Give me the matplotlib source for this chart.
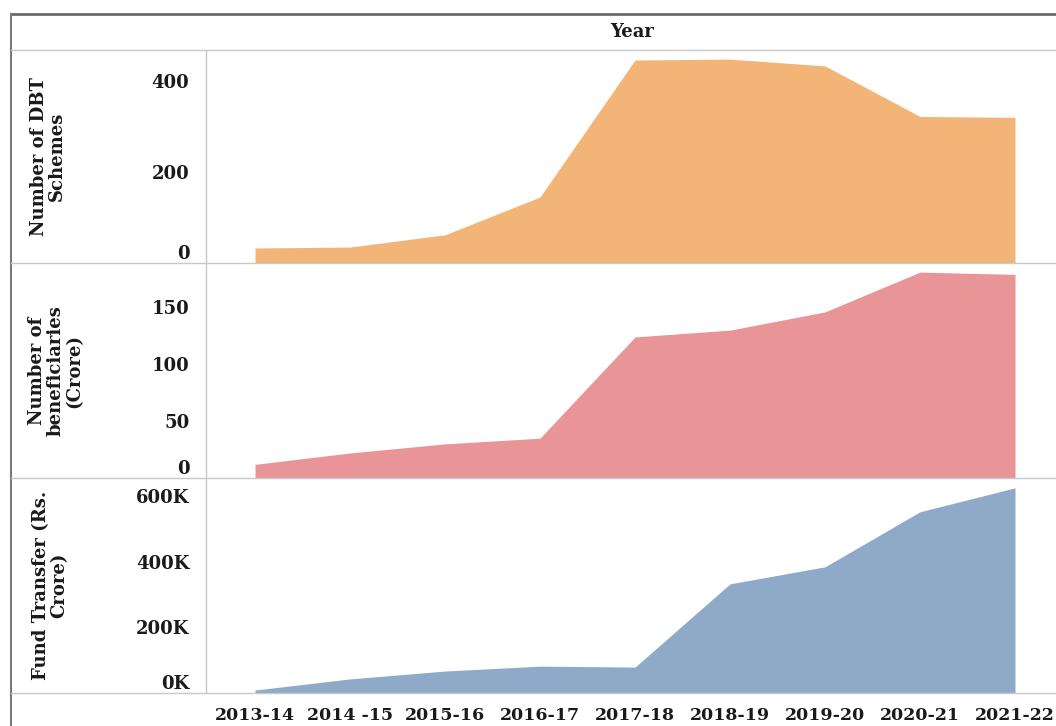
import numpy as np
import matplotlib
matplotlib.use('Agg')
import matplotlib.pyplot as plt
from matplotlib.lines import Line2D
from matplotlib.ticker import FuncFormatter

plt.rcParams['font.family'] = ['DejaVu Serif']
plt.rcParams['font.weight'] = 'bold'

years = ['2013-14', '2014 -15', '2015-16', '2016-17', '2017-18',
         '2018-19', '2019-20', '2020-21', '2021-22']
dbt_schemes = [33, 35, 62, 145, 446, 448, 433, 322, 320]
beneficiaries = [12, 22, 30, 35, 124, 130, 146, 181, 179]          # crore
fund_transfer = [9000, 43000, 67000, 82000, 79000,
                 333000, 385000, 553000, 626000]                    # Rs. crore

W, H = 1056, 726
fig = plt.figure(figsize=(W / 100, H / 100), dpi=100)

def fy(p):
    return 1 - p / H

def fx(p):
    return p / W

x = np.arange(len(years))
left_px, right_px = 206, 1056
x_first, x_step = 255, 95.0
xlim = ((left_px - x_first) / x_step, (right_px - x_first) / x_step)

panels = [
    (50, 263, dbt_schemes, '#f2b477', 468, [0, 200, 400],
     lambda v, p: f'{v:.0f}', 'Number of DBT\nSchemes', 48),
    (263, 478, beneficiaries, '#e99597', 189, [0, 50, 100, 150],
     lambda v, p: f'{v:.0f}', 'Number of\nbeneficiaries\n(Crore)', 56),
    (478, 693, fund_transfer, '#8eaac8', 656000, [0, 200000, 400000, 600000],
     lambda v, p: f'{v / 1000:.0f}K', 'Fund Transfer (Rs.\nCrore)', 50),
]

axes = []
for top, bot, vals, color, ymax, ticks, fmt, label, lab_x in panels:
    ax = fig.add_axes([fx(left_px), fy(bot), fx(right_px - left_px), (bot - top) / H])
    ax.fill_between(x, 0, vals, color=color, lw=0)
    ax.set_xlim(*xlim)
    ax.set_ylim(0, ymax)
    ax.set_yticks(ticks)
    ax.yaxis.set_major_formatter(FuncFormatter(fmt))
    ax.tick_params(axis='y', length=0, pad=12, labelsize=13, labelcolor='#1a1a1a')
    ax.tick_params(axis='x', length=0, labelbottom=False)
    ax.get_yticklabels()[0].set_verticalalignment('bottom')
    for s in ax.spines.values():
        s.set_visible(False)
    ax.patch.set_alpha(0)
    # row label in the left column
    fig.text(fx(lab_x), fy((top + bot) / 2), label, rotation=90, ha='center',
             va='center', fontsize=13, fontweight='bold', linespacing=1.05,
             color='#1a1a1a')
    axes.append(ax)

axes[-1].set_xticks(x)
axes[-1].set_xticklabels(years)
axes[-1].tick_params(axis='x', labelbottom=True, pad=10, labelsize=12.5,
                     labelcolor='#1a1a1a')

# table frame
grey = '#c8c8c8'
fig.add_artist(Line2D([fx(11), 1], [fy(14), fy(14)], color='#6a6a6a', lw=2))
fig.add_artist(Line2D([fx(11), fx(11)], [fy(14), 0], color='#7a7a7a', lw=1.5))
fig.add_artist(Line2D([fx(11), 1], [fy(50), fy(50)], color=grey, lw=1))
for p in (263, 478, 693):
    fig.add_artist(Line2D([fx(11), 1], [fy(p), fy(p)], color=grey, lw=1))
fig.add_artist(Line2D([fx(206), fx(206)], [fy(50), fy(693)], color=grey, lw=1))

fig.text(fx(632), fy(32), 'Year', ha='center', va='center', fontsize=13,
         fontweight='bold', color='#1a1a1a')

fig.savefig('out.png', dpi=100)
